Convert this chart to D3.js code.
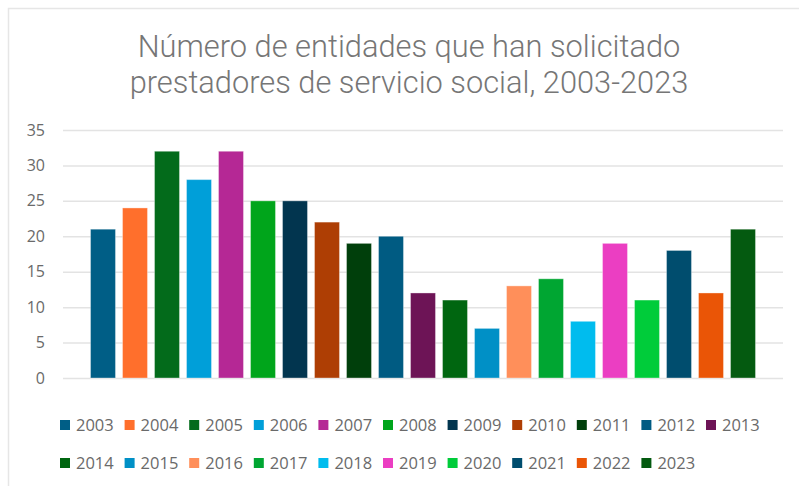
<!DOCTYPE html>
<html><head><meta charset="utf-8">
<script src="https://cdn.jsdelivr.net/npm/d3@7"></script>
<style>body{margin:0;background:#fff}svg{display:block}</style>
</head><body>
<script>
const years = ["2003","2004","2005","2006","2007","2008","2009","2010","2011","2012","2013","2014","2015","2016","2017","2018","2019","2020","2021","2022","2023"];
const values = [21,24,32,28,32,25,25,22,19,20,12,11,7,13,14,8,19,11,18,12,21];
const colors = ["#005E86","#FF6F2C","#036B1B","#009FD9","#B52895","#00A51B","#02354F","#AE3E04","#003F0B","#005B82","#6D1456","#006610","#0090C6","#FF8F5A","#00A632","#00BCEE","#EB3EC2","#00CC3A","#004D6E","#EA5506","#045A10"];
const yTicks = [0,5,10,15,20,25,30,35];
const titleLines = ["Número de entidades que han solicitado","prestadores de servicio social, 2003-2023"];

const W = 799, H = 486;
const svg = d3.select("body").append("svg").attr("width", W).attr("height", H);
const font = "'Open Sans', 'Liberation Sans', sans-serif";
const titleFont = "Roboto, 'Open Sans', sans-serif";

svg.append("rect").attr("x", 8.5).attr("y", 8.5).attr("width", 900).attr("height", 600)
  .attr("fill", "#fff").attr("stroke", "#e6e6e6").attr("stroke-width", 1.5);

const plot = {left: 63, right: 783, top: 130, bottom: 378};
const y = d3.scaleLinear().domain([0, 35]).range([plot.bottom, plot.top]);
const x = d3.scaleBand().domain(years).range([plot.left, plot.right]).paddingInner(0.22).paddingOuter(0.86);

// title
svg.append("g").selectAll("text").data(titleLines).join("text")
  .attr("x", 409).attr("y", (d, i) => 56.5 + i * 36.6)
  .attr("text-anchor", "middle").attr("font-family", titleFont).attr("font-size", 30.8)
  .attr("font-weight", 300).attr("fill", "#767676").text(d => d);

// grid
const yAxis = d3.axisLeft(y).tickValues(yTicks).tickSize(-(plot.right - plot.left)).tickPadding(18);
const gy = svg.append("g").attr("transform", `translate(${plot.left},0)`).call(yAxis);
gy.select(".domain").remove();
gy.selectAll(".tick line").attr("stroke", "#e3e3e3").attr("stroke-width", 1.5);
gy.selectAll(".tick text").attr("font-family", font).attr("font-size", 16).attr("fill", "#6a6a6a");

// bars
svg.append("g").selectAll("rect").data(years).join("rect")
  .attr("x", d => x(d)).attr("width", x.bandwidth())
  .attr("y", (d, i) => y(values[i])).attr("height", (d, i) => y(0) - y(values[i]))
  .attr("fill", (d, i) => colors[i])
  .attr("stroke", "rgba(255,255,255,0.35)").attr("stroke-width", 1);

// legend
const perRow = 11, step = 64.6, lx0 = 60;
const lg = svg.append("g").selectAll("g").data(years).join("g")
  .attr("transform", (d, i) => `translate(${lx0 + (i % perRow) * step},${i < perRow ? 420 : 458})`);
lg.append("rect").attr("width", 10).attr("height", 10).attr("fill", (d, i) => colors[i]);
lg.append("text").attr("x", 16).attr("y", 10.5).attr("font-family", font).attr("font-size", 16.5)
  .attr("fill", "#6a6a6a").text(d => d);
</script>
</body></html>
